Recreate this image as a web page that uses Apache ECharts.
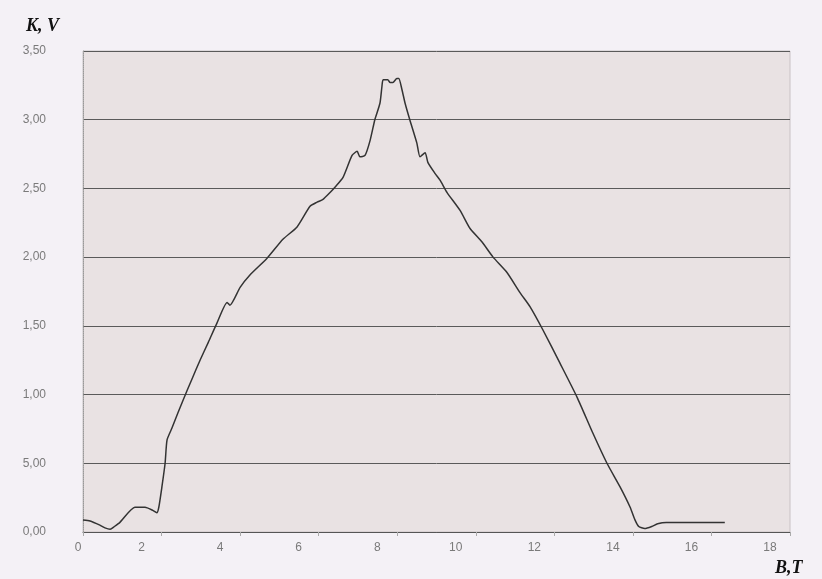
<!DOCTYPE html>
<html>
<head>
<meta charset="utf-8">
<script src="https://cdn.jsdelivr.net/npm/echarts@6/dist/echarts.min.js"></script>
<style>
html,body{margin:0;padding:0;background:#f4f1f6;}
#c{width:822px;height:579px;}
</style>
</head>
<body>
<div id="c"></div>
<script>
// B, T values
const bValues = [0.00,0.18,0.43,0.56,0.69,0.80,0.94,1.32,1.58,1.76,1.88,1.93,2.01,2.09,2.14,2.27,2.42,2.65,2.77,2.98,3.19,3.41,3.67,3.74,4.00,4.25,4.68,5.09,5.45,5.78,5.96,6.11,6.29,6.42,6.62,6.85,6.98,7.05,7.18,7.31,7.43,7.56,7.61,7.64,7.76,7.82,7.89,7.99,8.04,8.12,8.20,8.32,8.50,8.58,8.71,8.78,8.96,9.09,9.27,9.60,9.85,10.16,10.44,10.79,11.13,11.38,11.71,12.14,12.58,12.98,13.34,13.67,13.93,14.05,14.15,14.30,14.48,14.63,14.85,15.20,16.34];
// K, V values
const kValues = [0.087,0.08,0.05,0.03,0.02,0.04,0.07,0.18,0.18,0.16,0.14,0.18,0.33,0.50,0.67,0.76,0.87,1.03,1.11,1.25,1.38,1.52,1.67,1.65,1.78,1.87,1.99,2.13,2.22,2.37,2.40,2.42,2.47,2.51,2.58,2.74,2.77,2.73,2.74,2.85,3.00,3.12,3.24,3.29,3.29,3.27,3.27,3.30,3.30,3.22,3.12,3.00,2.83,2.73,2.76,2.69,2.61,2.56,2.47,2.34,2.21,2.11,2.00,1.89,1.74,1.64,1.47,1.23,0.98,0.72,0.50,0.33,0.18,0.09,0.04,0.025,0.04,0.06,0.07,0.07,0.07];
// tick labels as printed on the original
const yTickLabels = ['0,00','5,00','1,00','1,50','2,00','2,50','3,00','3,50'];
const xTickLabels = ['0','2','4','6','8','10','12','14','16','18'];
const xTitle = 'B,T';
const yTitle = 'K, V';

const chart = echarts.init(document.getElementById('c'), null, {renderer:'canvas'});
const seriesData = bValues.map((b,i)=>[b,kValues[i]]);

chart.setOption({
  backgroundColor:'#f4f1f6',
  animation:false,
  grid:{left:83,right:32,top:51,bottom:47,show:true,backgroundColor:'#e9e2e3',borderColor:'#c8c2c4',borderWidth:1},
  xAxis:{
    type:'value',min:0,max:18,interval:2,
    axisLine:{show:true,lineStyle:{color:'#555',width:1}},
    axisTick:{show:true,length:4,lineStyle:{color:'#aaa'}},
    splitLine:{show:false},
    axisLabel:{
      margin:10,color:'#7a7a7a',fontFamily:'Liberation Sans, Arial, sans-serif',fontSize:12,
      formatter:function(v){
        const i=Math.round(v/2);
        const t=xTickLabels[i];
        return v===0?'{z|'+t+'}':'{a|'+t+'}';
      },
      rich:{
        a:{padding:[0,40,0,0],color:'#7a7a7a',fontSize:12,fontFamily:'Liberation Sans, Arial, sans-serif'},
        z:{padding:[0,10,0,0],color:'#7a7a7a',fontSize:12,fontFamily:'Liberation Sans, Arial, sans-serif'}
      }
    }
  },
  yAxis:{
    type:'value',min:0,max:3.5,interval:0.5,
    axisLine:{show:true,lineStyle:{color:'#999',type:'dotted',width:1}},
    axisTick:{show:false},
    splitLine:{show:true,lineStyle:{color:'#5a5a5a',width:1}},
    axisLabel:{
      margin:37,color:'#7a7a7a',fontFamily:'Liberation Sans, Arial, sans-serif',fontSize:12,
      formatter:function(v){return yTickLabels[Math.round(v/0.5)];}
    }
  },
  graphic:[
    {type:'text',left:26,top:17,style:{text:yTitle,font:'italic bold 18px "Liberation Serif", "DejaVu Serif", serif',fill:'#111'}},
    {type:'text',left:775,top:559,style:{text:xTitle,font:'italic bold 18px "Liberation Serif", "DejaVu Serif", serif',fill:'#111'}}
  ],
  series:[{
    type:'line',data:seriesData,showSymbol:false,smooth:0.2,
    lineStyle:{color:'#333',width:1.5}
  }]
});
</script>
</body>
</html>
